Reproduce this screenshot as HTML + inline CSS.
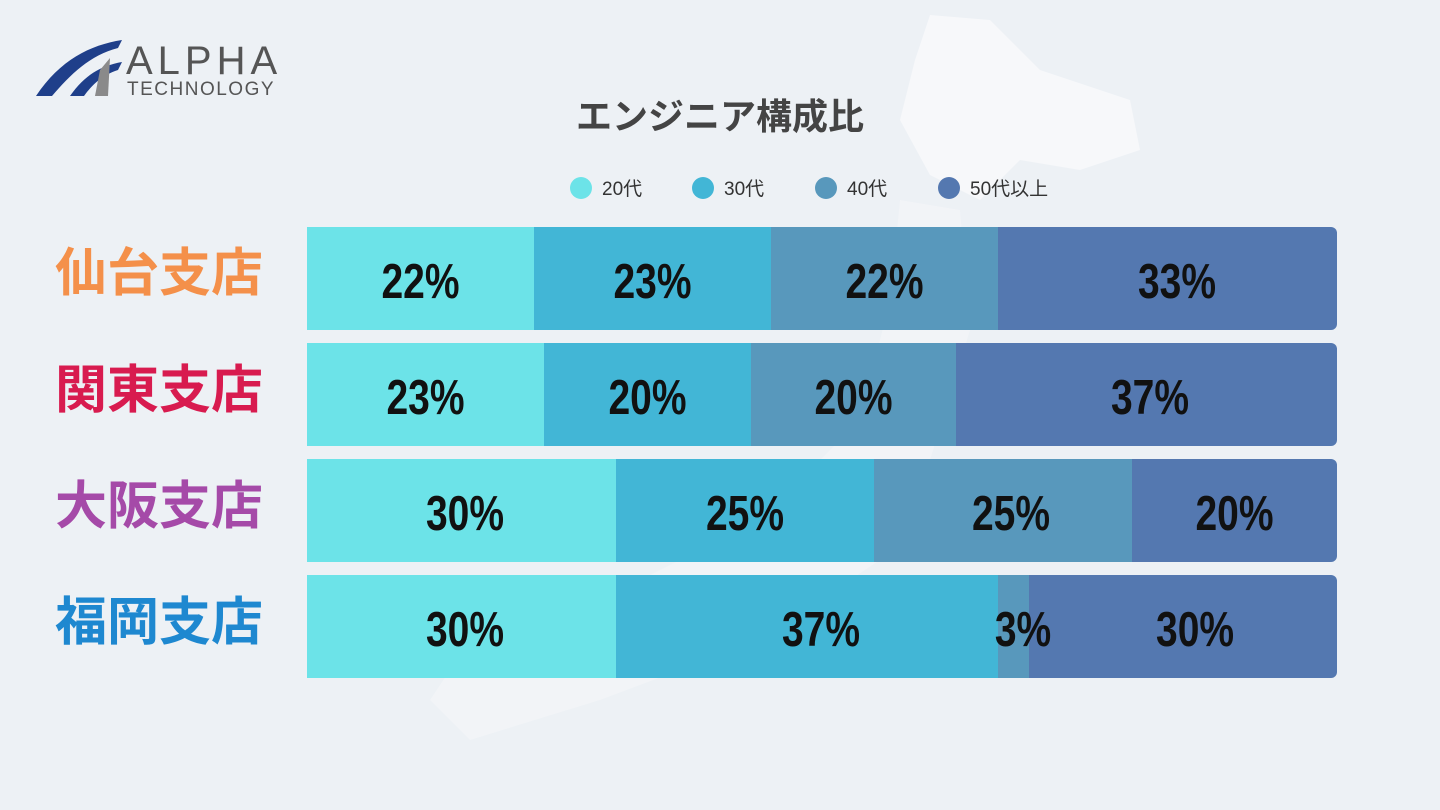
<!DOCTYPE html>
<html><head><meta charset="utf-8"><style>
body{margin:0;width:1440px;height:810px;background:#edf1f5;position:relative;overflow:hidden;font-family:"Liberation Sans","Noto Sans CJK JP",sans-serif}
.a{position:absolute}
.seg{position:absolute;display:flex;align-items:center;justify-content:center;font-family:"Liberation Sans Narrow","Liberation Sans",sans-serif;font-weight:bold;font-size:39px;color:#111;padding-top:8px;box-sizing:border-box}
.seg span{display:inline-block;transform:scaleY(1.25)}
.lab{position:absolute;left:55px;font-size:52px;font-weight:bold;font-family:"Noto Sans CJK JP",sans-serif;line-height:1}
.c1{background:#6ce3e8}.c2{background:#42b6d6}.c3{background:#5898bc}.c4{background:#5478b0}
.leg{position:absolute;top:174px;font-size:19px;color:#333;display:flex;align-items:center;font-family:"Liberation Sans","Noto Sans CJK JP",sans-serif}
.leg i{display:inline-block;width:22px;height:22px;border-radius:50%;margin-right:10px}
</style></head><body>
<svg class="a" style="left:0;top:0" width="1440" height="810">
<path d="M930 15 L990 20 L1040 70 L1130 100 L1140 150 L1080 170 L1020 160 L980 200 L930 175 L900 120 L915 60Z" fill="#f7f8fa"/>
<path d="M900 200 L960 210 L970 330 L930 460 L880 560 L760 640 L600 700 L470 740 L430 700 L470 640 L600 600 L760 520 L860 420 L890 300Z" fill="#f3f5f7" opacity="0.8"/>
<path d="M36 96 C60 60 90 45 122 40 L118 48 C90 55 70 75 52 96Z" fill="#1f3f8a"/>
<path d="M70 96 C85 75 100 66 122 62 L118 70 C102 75 92 85 84 96Z" fill="#1f3f8a"/>
<path d="M95 96 L100 70 L110 58 L108 96Z" fill="#8a8a8a"/>
<text x="126" y="74" font-family="Liberation Sans" font-size="40" fill="#555" letter-spacing="5">ALPHA</text>
<text x="127" y="95" font-family="Liberation Sans" font-size="19" fill="#555" letter-spacing="1.5">TECHNOLOGY</text>
</svg>
<div class="a" style="left:0;width:1440px;top:88px;text-align:center;font-size:36px;font-weight:bold;color:#444;font-family:'Noto Sans CJK JP',sans-serif">エンジニア構成比</div>
<div class="leg" style="left:570px"><i class="c1"></i>20代</div>
<div class="leg" style="left:692px"><i class="c2"></i>30代</div>
<div class="leg" style="left:815px"><i class="c3"></i>40代</div>
<div class="leg" style="left:938px"><i class="c4"></i>50代以上</div>

<div class="lab" style="top:243px;color:#f4904a">仙台支店</div>
<div class="lab" style="top:360px;color:#d81b4f">関東支店</div>
<div class="lab" style="top:476px;color:#a54aa8">大阪支店</div>
<div class="lab" style="top:592px;color:#1e88d0">福岡支店</div>

<div class="a" style="left:307px;top:227px;width:1030px;height:103px;border-radius:0 6px 6px 0;overflow:hidden">
<div class="seg c1" style="left:0;width:227px;height:103px"><span>22%</span></div>
<div class="seg c2" style="left:227px;width:237px;height:103px"><span>23%</span></div>
<div class="seg c3" style="left:464px;width:227px;height:103px"><span>22%</span></div>
<div class="seg c4" style="left:691px;width:358px;height:103px"><span>33%</span></div>
</div>
<div class="a" style="left:307px;top:343px;width:1030px;height:103px;border-radius:0 6px 6px 0;overflow:hidden">
<div class="seg c1" style="left:0;width:237px;height:103px"><span>23%</span></div>
<div class="seg c2" style="left:237px;width:207px;height:103px"><span>20%</span></div>
<div class="seg c3" style="left:444px;width:205px;height:103px"><span>20%</span></div>
<div class="seg c4" style="left:649px;width:388px;height:103px"><span>37%</span></div>
</div>
<div class="a" style="left:307px;top:459px;width:1030px;height:103px;border-radius:0 6px 6px 0;overflow:hidden">
<div class="seg c1" style="left:0;width:316px;height:103px"><span>30%</span></div>
<div class="seg c2" style="left:309px;width:258px;height:103px"><span>25%</span></div>
<div class="seg c3" style="left:567px;width:274px;height:103px"><span>25%</span></div>
<div class="seg c4" style="left:825px;width:205px;height:103px"><span>20%</span></div>
</div>
<div class="a" style="left:307px;top:575px;width:1030px;height:103px;border-radius:0 6px 6px 0;overflow:hidden">
<div class="seg c1" style="left:0;width:316px;height:103px"><span>30%</span></div>
<div class="seg c2" style="left:309px;width:382px;height:103px;padding-left:28px"><span>37%</span></div>
<div class="seg c3" style="left:691px;width:31px;height:103px"></div>
<div class="seg c4" style="left:722px;width:308px;height:103px;justify-content:flex-start;padding-left:127px"><span>30%</span></div>
<div class="seg" style="left:676px;width:80px;height:103px"><span>3%</span></div>
</div>
</body></html>
